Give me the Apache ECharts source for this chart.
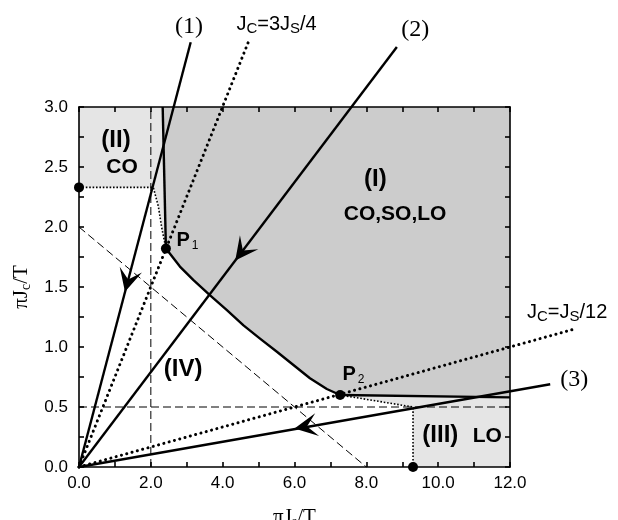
<!DOCTYPE html>
<html><head><meta charset="utf-8">
<script src="https://cdn.jsdelivr.net/npm/echarts@6/dist/echarts.min.js"></script>
<style>html,body{margin:0;padding:0;background:#fff}#chart{width:618px;height:520px}</style>
</head><body><div id="chart"></div>
<script>
// Axis ranges, tick steps and label steps
const xRange = [0, 12];
const yRange = [0, 3];
const xTickStep = 1;
const yTickStep = 0.25;
const xLabelStep = 2;
const yLabelStep = 0.5;

// Phase boundaries
const boundaryVertical = [[2.33, 3.0], [2.42, 1.82]];
const boundaryCurve = [[2.42, 1.82], [2.81, 1.67], [3.18, 1.56], [3.65, 1.43], [4.11, 1.31], [4.58, 1.18],
  [5.04, 1.07], [5.51, 0.96], [5.97, 0.85], [6.43, 0.74], [6.90, 0.65], [7.27, 0.60]];
const boundaryFlat = [[7.27, 0.60], [12, 0.58]];
const coBoundary = [[0, 2.33], [2.07, 2.33], [2.21, 2.17], [2.30, 2.00], [2.42, 1.82]];
const loBoundary = [[7.27, 0.60], [9.3, 0.5], [9.3, 0]];

// Reference lines
const lineJc3Js4 = [[0, 0], [4.74, 3.56]];
const lineJcJs12 = [[0, 0], [13.8, 1.15]];
const dashedX2 = [[2, 0], [2, 3]];
const dashedY05 = [[0, 0.5], [12, 0.5]];
const dashedDiag = [[0, 2], [8, 0]];

// Flow trajectories (1), (2), (3) running into the origin
const path1 = [[3.11, 3.54], [0, 0]];
const path2 = [[8.85, 3.50], [0, 0]];
const path3 = [[13.12, 0.69], [0, 0]];
const paths = [path1, path2, path3];
// Arrow tips along each trajectory
const arrowTips = [[1.28, 1.46], [4.35, 1.72], [6.00, 0.32]];

// Special points: end points of the CO / LO boundaries, P1, P2
const markedPoints = [[0, 2.33], [2.42, 1.82], [7.27, 0.60], [9.3, 0]];

// Shaded phases built from the boundaries
const regionI = [...boundaryVertical, ...boundaryCurve.slice(1), ...boundaryFlat.slice(1), [xRange[1], yRange[1]]];
const regionII = [[0, yRange[1]], ...boundaryVertical, ...coBoundary.slice(0, -1).reverse()];
const regionIII = [...loBoundary, [xRange[1], 0], boundaryFlat[1]];

const SANS = 'Liberation Sans';
const SERIF = 'Liberation Serif';

const chart = echarts.init(document.getElementById('chart'), null, { renderer: 'canvas' });

function poly(points, fill) {
  return {
    type: 'custom', coordinateSystem: 'cartesian2d', z: 1, silent: true, clip: false,
    data: [[0, 0]],
    renderItem: (params, api) => ({
      type: 'polygon',
      shape: { points: points.map(p => api.coord(p)) },
      style: { fill: fill, stroke: null }
    })
  };
}

function seg(points, style, z) {
  return {
    type: 'custom', coordinateSystem: 'cartesian2d', z: z || 4, silent: true, clip: false,
    data: [[0, 0]],
    renderItem: (params, api) => ({
      type: 'polyline',
      shape: { points: points.map(p => api.coord(p)) },
      style: Object.assign({ stroke: '#000', fill: null, lineJoin: 'round' }, style)
    })
  };
}

// Swept arrowhead whose tip sits on the trajectory and points toward its end
const arrowSeries = {
  type: 'custom', coordinateSystem: 'cartesian2d', z: 8, silent: true, clip: false,
  data: arrowTips.map((p, i) => [p[0], p[1], i]),
  renderItem: (params, api) => {
    const i = api.value(2);
    const tip = api.coord([api.value(0), api.value(1)]);
    const a = api.coord(paths[i][0]);
    const b = api.coord(paths[i][1]);
    const len = Math.hypot(b[0] - a[0], b[1] - a[1]);
    const d = [(b[0] - a[0]) / len, (b[1] - a[1]) / len];
    const n = [-d[1], d[0]];
    const L = 23, W = 23, notch = 0.55 * L;
    const pts = [
      tip,
      [tip[0] - L * d[0] + W / 2 * n[0], tip[1] - L * d[1] + W / 2 * n[1]],
      [tip[0] - notch * d[0], tip[1] - notch * d[1]],
      [tip[0] - L * d[0] - W / 2 * n[0], tip[1] - L * d[1] - W / 2 * n[1]]
    ];
    return { type: 'polygon', shape: { points: pts }, style: { fill: '#000', stroke: null } };
  }
};

const solid = { lineWidth: 2.4 };
const dashed = { lineWidth: 1, lineDash: [8, 4] };
const bigDots = { lineWidth: 3, lineDash: [0.1, 5.4], lineCap: 'round' };
const fineDots = { lineWidth: 1.6, lineDash: [1.6, 1.8] };

const subRich = {
  t: { fontFamily: SANS, fontSize: 20, color: '#000' },
  s: { fontFamily: SANS, fontSize: 15, color: '#000', padding: [9, 0, 0, 0] },
  n: { fontFamily: SERIF, fontSize: 24, color: '#000' },
  b: { fontFamily: SANS, fontSize: 24, fontWeight: 'bold', color: '#000' },
  c: { fontFamily: SANS, fontSize: 21, fontWeight: 'bold', color: '#000' },
  p: { fontFamily: SANS, fontSize: 20, fontWeight: 'bold', color: '#000' },
  ps: { fontFamily: SANS, fontSize: 12, color: '#000', padding: [11, 0, 0, 2] }
};

function note(pos, text) {
  return { value: pos, label: { show: true, formatter: text, position: 'inside', rich: subRich } };
}

const annotations = [
  note([3.06, 3.67], '{n|(1)}'),
  note([9.36, 3.64], '{n|(2)}'),
  note([13.79, 0.73], '{n|(3)}'),
  note([5.50, 3.69], '{t|J}{s|C}{t|=3J}{s|S}{t|/4}'),
  note([13.59, 1.29], '{t|J}{s|C}{t|=J}{s|S}{t|/12}'),
  note([8.25, 2.40], '{b|(I)}'),
  note([8.80, 2.11], '{c|CO,SO,LO}'),
  note([1.03, 2.72], '{b|(II)}'),
  note([1.20, 2.50], '{c|CO}'),
  note([2.90, 0.81], '{b|(IV)}'),
  note([10.06, 0.26], '{b|(III)}'),
  note([11.37, 0.26], '{c|LO}'),
  note([3.02, 1.89], '{p|P}{ps|1}'),
  note([7.64, 0.77], '{p|P}{ps|2}')
];

// Frame axes: ticks point into the plot area, drawn above the shaded phases
function axisBase(extra) {
  return Object.assign({
    type: 'value', z: 2,
    splitLine: { show: false },
    axisLine: { show: true, onZero: false, lineStyle: { color: '#000', width: 1.6 } },
    axisTick: { show: true, inside: false, length: -5, lineStyle: { color: '#000', width: 1.6 } },
    axisLabel: { show: false }
  }, extra);
}

function tickLabel(step) {
  return v => (Math.abs(v / step - Math.round(v / step)) < 1e-6 ? v.toFixed(1) : '');
}

const labelStyle = { show: true, color: '#000', fontFamily: SANS, fontSize: 17 };
const nameRich = {
  t: { fontFamily: SERIF, fontSize: 21, color: '#000' },
  s: { fontFamily: SERIF, fontSize: 14, color: '#000', padding: [10, 0, 0, 0] }
};

const option = {
  animation: false,
  backgroundColor: '#fff',
  grid: { left: 79, top: 107, width: 431, height: 360, containLabel: false, outerBoundsMode: 'none' },
  xAxis: [
    axisBase({
      position: 'bottom', min: xRange[0], max: xRange[1], interval: xTickStep,
      axisLabel: Object.assign({ margin: 8, formatter: tickLabel(xLabelStep) }, labelStyle),
      name: '{t|πJ}{s|s}{t|/T}', nameLocation: 'middle', nameGap: 38,
      nameTextStyle: { rich: nameRich }
    }),
    axisBase({ position: 'top', min: xRange[0], max: xRange[1], interval: xTickStep })
  ],
  yAxis: [
    axisBase({
      position: 'left', min: yRange[0], max: yRange[1], interval: yTickStep,
      axisLabel: Object.assign({ margin: 11, formatter: tickLabel(yLabelStep) }, labelStyle),
      name: '{t|πJ}{s|c}{t|/T}', nameLocation: 'middle', nameGap: 40,
      nameTextStyle: { rich: nameRich }
    }),
    axisBase({ position: 'right', min: yRange[0], max: yRange[1], interval: yTickStep })
  ],
  series: [
    poly(regionI, '#cccccc'),
    poly(regionII, '#e5e5e5'),
    poly(regionIII, '#e5e5e5'),
    seg(dashedX2, dashed, 3),
    seg(dashedY05, dashed, 3),
    seg(dashedDiag, dashed, 3),
    seg(lineJc3Js4, bigDots, 4),
    seg(lineJcJs12, bigDots, 4),
    seg(coBoundary, fineDots, 4),
    seg(loBoundary, fineDots, 4),
    seg(boundaryVertical, solid, 6),
    seg(boundaryCurve, solid, 6),
    seg(boundaryFlat, solid, 6),
    seg(path1, solid, 6),
    seg(path2, solid, 6),
    seg(path3, solid, 6),
    arrowSeries,
    {
      type: 'scatter', symbol: 'circle', symbolSize: 10, clip: false, silent: true, z: 9,
      itemStyle: { color: '#000', opacity: 1 }, data: markedPoints
    },
    {
      type: 'scatter', symbolSize: 0, clip: false, silent: true, z: 10,
      itemStyle: { opacity: 1 }, data: annotations
    }
  ]
};

chart.setOption(option);
</script>
</body></html>
